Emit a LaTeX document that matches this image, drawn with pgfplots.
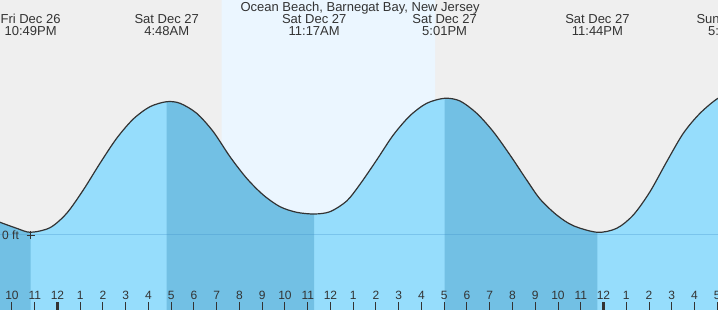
\documentclass[border=0pt]{standalone}
\usepackage{pgfplots}
\pgfplotsset{compat=1.18}
\usepgfplotslibrary{fillbetween}
\usepackage{fontspec}
\setmainfont{Liberation Sans}
\definecolor{bgGray}{RGB}{239,239,239}
\definecolor{dayBlue}{RGB}{235,246,255}
\definecolor{tideLight}{RGB}{150,221,252}
\definecolor{tideDark}{RGB}{114,192,228}
\definecolor{txt}{RGB}{51,51,51}
\definecolor{curveCol}{RGB}{51,51,51}
\definecolor{zeroLine}{RGB}{60,140,200}
\newcommand\fs{\fontsize{12}{12.5}\selectfont}
\newcommand\fl{\fontsize{13}{12.5}\selectfont}
\begin{document}
\begin{tikzpicture}
\begin{axis}[name=ax, width=718pt, height=310pt, scale only axis,
  xmin=-2.527, xmax=29.033, ymin=-0.75, ymax=2.35,
  axis background/.style={fill=bgGray},
  axis x line*=bottom, axis y line=none,
  x axis line style={draw=none},
  axis on top,
  xtick={-2,...,29},
  xticklabels={10,11,12,1,2,3,4,5,6,7,8,9,10,11,12,1,2,3,4,5,6,7,8,9,10,11,12,1,2,3,4,5},
  tick align=inside, major tick length=8pt,
  tick style={txt, line width=1pt},
  xticklabel style={font=\fs, text=txt, anchor=base, yshift=10pt},
  /pgf/number format/assume math mode=true,
  extra x ticks={0,24}, extra x tick labels={},
  extra x tick style={tick style={line width=2.2pt, txt}},
]
\addplot[draw=none, name path=curve, smooth] coordinates {
(-2.527,0.127) (-1.793,0.067) (-1.183,0.027) (-0.330,0.073) (0.404,0.217)
(1.134,0.450) (1.868,0.717) (2.602,0.967) (3.332,1.160) (4.066,1.283)
(4.800,1.333) (5.385,1.317) (6.119,1.217) (6.848,1.033) (7.582,0.783)
(8.316,0.567) (9.046,0.400) (9.780,0.283) (10.514,0.227) (11.283,0.210)
(11.978,0.233) (12.712,0.340) (13.297,0.507) (14.031,0.750) (14.761,1.000)
(15.495,1.193) (16.229,1.317) (17.017,1.367) (17.692,1.340) (18.427,1.217)
(19.156,1.033) (19.890,0.800) (20.624,0.550) (21.209,0.360) (21.943,0.200)
(22.673,0.093) (23.733,0.027) (24.580,0.067) (25.310,0.200) (26.044,0.433)
(26.778,0.733) (27.508,1.017) (28.242,1.217) (29.033,1.367) (29.583,1.400)};
\addplot[draw=none, name path=bottom] coordinates {(-2.6,-0.75) (29.7,-0.75)};
\addplot[draw=none, name path=top] coordinates {(-2.6,2.35) (29.7,2.35)};
\addplot[dayBlue] fill between[of=curve and top, soft clip={domain=7.22:16.6}];
\addplot[tideLight] fill between[of=curve and bottom];
\addplot[tideDark] fill between[of=curve and bottom, soft clip={domain=-2.6:-1.183}];
\addplot[tideDark] fill between[of=curve and bottom, soft clip={domain=4.8:11.283}];
\addplot[tideDark] fill between[of=curve and bottom, soft clip={domain=17.017:23.733}];
\addplot[zeroLine, opacity=0.3, line width=1pt] coordinates {(-2.527,0) (29.033,0)};
\addplot[smooth, draw=curveCol, line width=1.2pt] coordinates {
(-2.527,0.127) (-1.793,0.067) (-1.183,0.027) (-0.330,0.073) (0.404,0.217)
(1.134,0.450) (1.868,0.717) (2.602,0.967) (3.332,1.160) (4.066,1.283)
(4.800,1.333) (5.385,1.317) (6.119,1.217) (6.848,1.033) (7.582,0.783)
(8.316,0.567) (9.046,0.400) (9.780,0.283) (10.514,0.227) (11.283,0.210)
(11.978,0.233) (12.712,0.340) (13.297,0.507) (14.031,0.750) (14.761,1.000)
(15.495,1.193) (16.229,1.317) (17.017,1.367) (17.692,1.340) (18.427,1.217)
(19.156,1.033) (19.890,0.800) (20.624,0.550) (21.209,0.360) (21.943,0.200)
(22.673,0.093) (23.733,0.027) (24.580,0.067) (25.310,0.200) (26.044,0.433)
(26.778,0.733) (27.508,1.017) (28.242,1.217) (29.033,1.367) (29.583,1.400)};
\addplot[only marks, mark=+, mark size=4pt, txt, line width=0.8pt] coordinates {(-1.183,0)};
\node[font=\fs, text=txt, anchor=west, inner sep=2pt] at (axis cs:-2.527,0) {0 ft};
\node[font=\fl, text=txt] at (axis cs:13.3,2.265) {Ocean Beach, Barnegat Bay, New Jersey};
\node[font=\fl, text=txt, align=center] at (axis cs:-1.183,2.10) {Fri Dec 26\\10:49PM};
\node[font=\fl, text=txt, align=center] at (axis cs:4.8,2.10) {Sat Dec 27\\4:48AM};
\node[font=\fl, text=txt, align=center] at (axis cs:11.283,2.10) {Sat Dec 27\\11:17AM};
\node[font=\fl, text=txt, align=center] at (axis cs:17.017,2.10) {Sat Dec 27\\5:01PM};
\node[font=\fl, text=txt, align=center] at (axis cs:23.733,2.10) {Sat Dec 27\\11:44PM};
\node[font=\fl, text=txt, align=center] at (axis cs:29.583,2.10) {Sun Dec 28\\5:35AM};
\end{axis}
\pgfresetboundingbox
\path[use as bounding box] (ax.south west) rectangle (ax.north east);
\end{tikzpicture}
\end{document}
